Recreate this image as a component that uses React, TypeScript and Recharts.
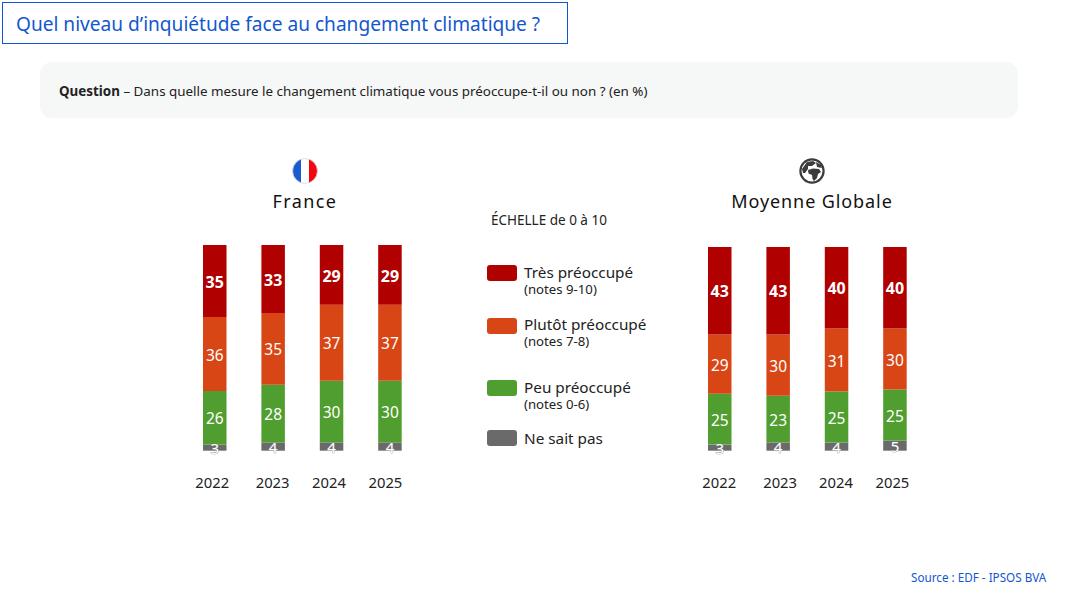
import React from "react";
import { BarChart, Bar, XAxis, YAxis, LabelList } from "recharts";

const years = ["2022", "2023", "2024", "2025"];
const franceTres = [35, 33, 29, 29];
const francePlutot = [36, 35, 37, 37];
const francePeu = [26, 28, 30, 30];
const franceNsp = [3, 4, 4, 4];
const globalTres = [43, 43, 40, 40];
const globalPlutot = [29, 30, 31, 30];
const globalPeu = [25, 23, 25, 25];
const globalNsp = [3, 4, 4, 5];

const RED = "#B00000";
const ORANGE = "#D84616";
const GREEN = "#509E30";
const GREY = "#6A6A6A";
const BLUE = "#1257CF";
const FONT = '"Noto Sans", sans-serif';

const buildRows = (tres: number[], plutot: number[], peu: number[], nsp: number[]) =>
  years.map((year, i) => ({ year, tres: tres[i], plutot: plutot[i], peu: peu[i], nsp: nsp[i] }));

const franceRows = buildRows(franceTres, francePlutot, francePeu, franceNsp);
const globalRows = buildRows(globalTres, globalPlutot, globalPeu, globalNsp);

const YearTick = (props: any) => {
  const { x, y, payload, shifts } = props;
  return (
    <text x={x + shifts[payload.index]} y={y} textAnchor="middle" dominantBaseline="central" fontFamily={FONT} fontSize={14.8} fill="#222">
      {payload.value}
    </text>
  );
};

type PanelProps = { rows: any[]; left: number; top: number; plotW: number; plotH: number; shifts: number[] };

const Panel = ({ rows, left, top, plotW, plotH, shifts }: PanelProps) => {
  const labelStyle = { fontFamily: FONT, fontSize: 15.5 };
  const chartProps = {
    width: plotW,
    height: plotH + 60,
    data: rows,
    barSize: 23.5,
    barCategoryGap: 0,
  };
  return (
    <>
      <div style={{ position: "absolute", left, top }}>
        <BarChart {...chartProps} margin={{ top: 0, right: 0, bottom: 0, left: 0 }}>
          <YAxis hide domain={[0, 100]} type="number" />
          <XAxis
            dataKey="year"
            axisLine={false}
            tickLine={false}
            interval={0}
            height={60}
            tickMargin={0}
            tick={(p: any) => <YearTick {...p} shifts={shifts} y={plotH + 31.5} />}
          />
          <Bar dataKey="nsp" stackId="s" fill={GREY} isAnimationActive={false} />
          <Bar dataKey="peu" stackId="s" fill={GREEN} isAnimationActive={false}>
            <LabelList dataKey="peu" position="center" fill="#fff" dy={1} style={labelStyle} />
          </Bar>
          <Bar dataKey="plutot" stackId="s" fill={ORANGE} isAnimationActive={false}>
            <LabelList dataKey="plutot" position="center" fill="#fff" dy={1} style={labelStyle} />
          </Bar>
          <Bar dataKey="tres" stackId="s" fill={RED} isAnimationActive={false}>
            <LabelList dataKey="tres" position="center" fill="#fff" dy={1} style={{ ...labelStyle, fontWeight: 700, fontSize: 16 }} />
          </Bar>
        </BarChart>
      </div>
      <div style={{ position: "absolute", left, top }}>
        <BarChart {...chartProps} margin={{ top: 0, right: 0, bottom: 60, left: 0 }}>
          <YAxis hide domain={[0, 100]} type="number" />
          <XAxis dataKey="year" hide />
          <Bar dataKey="nsp" stackId="s" fill="none" isAnimationActive={false}>
            <LabelList
              dataKey="nsp"
              position="center"
              fill="#fff"
              dy={1}
              style={{ ...labelStyle, fontSize: 15, stroke: "#8a8a8a", strokeWidth: 0.7, paintOrder: "stroke" }}
            />
          </Bar>
        </BarChart>
      </div>
    </>
  );
};

const abs = (left: number, top: number, extra: React.CSSProperties = {}): React.CSSProperties => ({
  position: "absolute",
  left,
  top,
  whiteSpace: "nowrap",
  ...extra,
});

const legendItems = [
  { color: RED, label: "Très préoccupé", sub: "(notes 9-10)", boxTop: 265, textTop: 262, subTop: 280 },
  { color: ORANGE, label: "Plutôt préoccupé", sub: "(notes 7-8)", boxTop: 317.5, textTop: 314, subTop: 332 },
  { color: GREEN, label: "Peu préoccupé", sub: "(notes 0-6)", boxTop: 379.5, textTop: 377, subTop: 395 },
  { color: GREY, label: "Ne sait pas", sub: "", boxTop: 430, textTop: 428, subTop: 0 },
];

const Flag = () => (
  <svg style={abs(292, 158)} width={26} height={26} viewBox="0 0 26 26">
    <defs>
      <clipPath id="fr">
        <circle cx={13} cy={13} r={12.4} />
      </clipPath>
    </defs>
    <g clipPath="url(#fr)">
      <rect x={0} y={0} width={9} height={26} fill="#1A5BD0" />
      <rect x={9} y={0} width={8} height={26} fill="#fff" />
      <rect x={17} y={0} width={9} height={26} fill="#F5050F" />
    </g>
    <circle cx={13} cy={13} r={12.4} fill="none" stroke="#d5d5d5" strokeWidth={0.8} />
  </svg>
);

const Globe = () => (
  <svg style={abs(799, 158)} width={26} height={26} viewBox="0 0 26 26">
    <circle cx={13} cy={13} r={11.6} fill="#fff" stroke="#3c3c3c" strokeWidth={2.2} />
    <path d="M3 11 L8 4 L14 3 L17 5 L13 8 L9 8 L9 11 L6 15 L4 15 Z" fill="#3c3c3c" />
    <path d="M9 12 L14 10.5 L20 11 L22 14 L19 16 L18 20 L15 23 L13.5 21 L13 17 L9.5 15.5 Z" fill="#3c3c3c" />
    <path d="M17 4 L22 7 L23 10 L18 9 Z" fill="#3c3c3c" />
  </svg>
);

export default function App() {
  return (
    <div style={{ position: "absolute", left: 0, top: 0, width: 1066, height: 595, background: "#fff", fontFamily: FONT, overflow: "hidden" }}>
      <div style={abs(2, 2, { width: 564, height: 40, border: `1.5px solid ${BLUE}` })} />
      <div style={abs(16, 10, { fontSize: 19.1, color: BLUE, lineHeight: "28px" })}>Quel niveau d’inquiétude face au changement climatique ?</div>

      <div style={abs(40, 62, { width: 978, height: 56, background: "#F6F7F7", borderRadius: 12 })} />
      <div style={abs(59, 81, { fontSize: 13.4, color: "#222", lineHeight: "20px" })}>
        <b>Question</b> – Dans quelle mesure le changement climatique vous préoccupe-t-il ou non ? (en %)
      </div>

      <Flag />
      <div style={abs(205, 189, { width: 200, textAlign: "center", fontSize: 18, letterSpacing: 1.4, color: "#111", lineHeight: "24px" })}>France</div>
      <Globe />
      <div style={abs(662, 189, { width: 300, textAlign: "center", fontSize: 18, letterSpacing: 0.9, color: "#111", lineHeight: "24px" })}>Moyenne Globale</div>

      <Panel rows={franceRows} left={185.8} top={245} plotW={233.6} plotH={205.7} shifts={[-3, -1, -3, -5]} />
      <Panel rows={globalRows} left={690.6} top={247} plotW={233.6} plotH={203.7} shifts={[-1, 1.5, -1, -3]} />

      <div style={abs(491, 210, { fontSize: 13.5, color: "#222", lineHeight: "20px" })}>ÉCHELLE de 0 à 10</div>
      {legendItems.map((item) => (
        <React.Fragment key={item.label}>
          <div style={abs(487, item.boxTop, { width: 30, height: 16, background: item.color, borderRadius: 3 })} />
          <div style={abs(524, item.textTop, { fontSize: 15.3, color: "#222", lineHeight: "20px" })}>{item.label}</div>
          {item.sub ? <div style={abs(524, item.subTop, { fontSize: 13.2, color: "#222", lineHeight: "18px" })}>{item.sub}</div> : null}
        </React.Fragment>
      ))}

      <div style={abs(911, 568, { fontSize: 11.7, color: BLUE, lineHeight: "18px" })}>Source : EDF - IPSOS BVA</div>
    </div>
  );
}
